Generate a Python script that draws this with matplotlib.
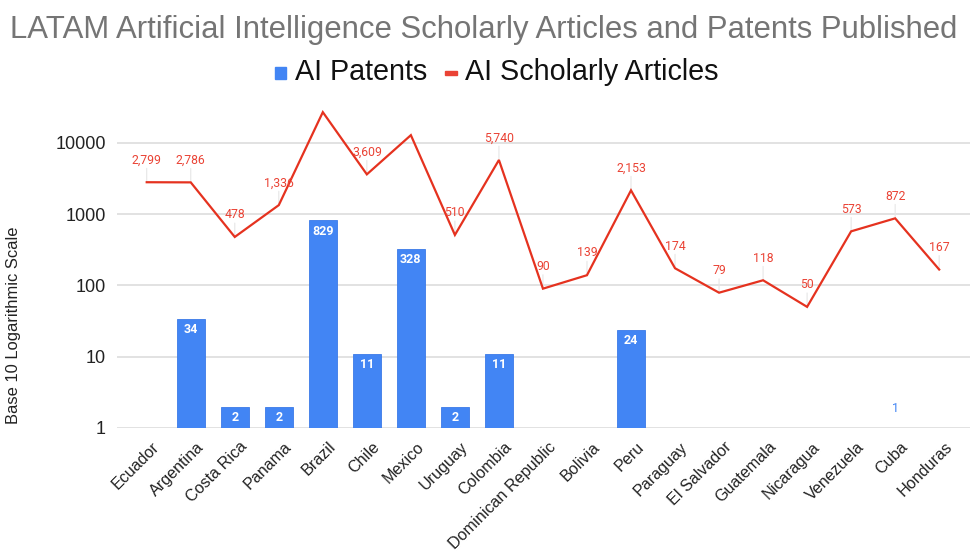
import numpy as np
import matplotlib
matplotlib.use("Agg")
import matplotlib.pyplot as plt
from matplotlib.patches import Rectangle
import matplotlib.transforms as mtransforms

countries = ["Ecuador", "Argentina", "Costa Rica", "Panama", "Brazil", "Chile",
             "Mexico", "Uruguay", "Colombia", "Dominican Republic", "Bolivia",
             "Peru", "Paraguay", "El Salvador", "Guatemala", "Nicaragua",
             "Venezuela", "Cuba", "Honduras"]
patents = [None, 34, 2, 2, 829, 11, 328, 2, 11, None, None, 24, None, None,
           None, None, None, 1, None]
articles = [2799, 2786, 478, 1336, 26900, 3609, 12800, 510, 5740, 90, 139,
            2153, 174, 79, 118, 50, 573, 872, 167]
# labels shown for the article series (None = hidden in the original)
article_labels = ["2,799", "2,786", "478", "1,336", None, "3,609", None, "510",
                  "5,740", "90", "139", "2,153", "174", "79", "118", "50",
                  "573", "872", "167"]
yticks = [1, 10, 100, 1000, 10000]
ytick_labels = ["1", "10", "100", "1000", "10000"]

BLUE = "#4285F4"
RED = "#E5321F"
LABEL_RED = "#EA4335"
GRID = "#dddddd"

W, H = 973, 558
fig = plt.figure(figsize=(W / 100, H / 100), dpi=100)
L, R, B, T = 117, 970, 428, 110
ax = fig.add_axes([L / W, 1 - B / H, (R - L) / W, (B - T) / H])

x = np.arange(len(countries))
ax.set_yscale("log")
ax.set_ylim(1, 10 ** 4.46)
ax.set_xlim(-0.675, len(countries) - 1 + 0.70)

# gridlines
for yv in yticks:
    ax.axhline(yv, color=GRID, lw=1.2, zorder=0)

# bars
pv = np.array([np.nan if v is None else v for v in patents], dtype=float)
ax.bar(x, pv - 1, bottom=1, width=0.64, color=BLUE, edgecolor="#3b7ae8",
       linewidth=0.6, zorder=2)
for xi, v in zip(x, patents):
    if v is None:
        continue
    if v > 1:
        ax.annotate(str(v), (xi, v), xytext=(0, -8), textcoords="offset points",
                    ha="center", va="center", color="white", fontsize=9,
                    fontweight="bold", family="Roboto", zorder=4)
    else:
        ax.annotate(str(v), (xi, v), xytext=(0, 14), textcoords="offset points",
                    ha="center", va="center", color=BLUE, fontsize=9,
                    family="Roboto", zorder=4)

# line
ax.plot(x, articles, color=RED, lw=1.6, zorder=3, solid_joinstyle="miter")
for xi, v, lab in zip(x, articles, article_labels):
    if lab is None:
        continue
    ax.annotate(lab, (xi, v), xytext=(0, 16), textcoords="offset points",
                ha="center", va="center", color=LABEL_RED, fontsize=8.8,
                family="Roboto", zorder=4)
    ax.annotate("", (xi, v), xytext=(0, 10), textcoords="offset points",
                arrowprops=dict(arrowstyle="-", color="#e6e6e6", lw=0.8,
                                shrinkA=0, shrinkB=0), zorder=1)

for s in ax.spines.values():
    s.set_visible(False)
ax.set_yticks(yticks)
ax.set_yticklabels(ytick_labels)
ax.minorticks_off()
ax.tick_params(axis="y", length=0, pad=8, labelsize=13, labelcolor="#222222")
for t in ax.get_yticklabels():
    t.set_family("Liberation Sans")

ax.set_xticks(x)
ax.set_xticklabels(countries, rotation=45, ha="right", va="top",
                   rotation_mode="anchor", fontsize=11.6,
                   family="Liberation Sans", color="#222222")
ax.tick_params(axis="x", length=0, pad=8)
offset = mtransforms.ScaledTranslation(5 / 100, 0, fig.dpi_scale_trans)
for t in ax.get_xticklabels():
    t.set_transform(t.get_transform() + offset)

ax.set_ylabel("Base 10 Logarithmic Scale", fontsize=11.9,
              family="Liberation Sans", color="#222222")
ax.yaxis.set_label_coords(-(117 - 21) / (R - L), (B - 325) / (B - T))

# title
fig.text(484 / W, 1 - 30 / H, "LATAM Artificial Intelligence Scholarly Articles and Patents Published",
         ha="center", va="center", fontsize=22.4, color="#757575",
         family="Liberation Sans")

# legend
fig.patches.append(Rectangle((275 / W, 1 - 79 / H), 11 / W, 12 / H,
                             transform=fig.transFigure, color=BLUE))
fig.text(295 / W, 1 - 72 / H, "AI Patents", ha="left", va="center",
         fontsize=20.7, color="#111111", family="Liberation Sans")
fig.patches.append(Rectangle((445 / W, 1 - 75 / H), 12 / W, 3.5 / H,
                             transform=fig.transFigure, color=LABEL_RED))
fig.text(465 / W, 1 - 72 / H, "AI Scholarly Articles", ha="left", va="center",
         fontsize=20.7, color="#111111", family="Liberation Sans")

fig.savefig("out.png", dpi=100)
